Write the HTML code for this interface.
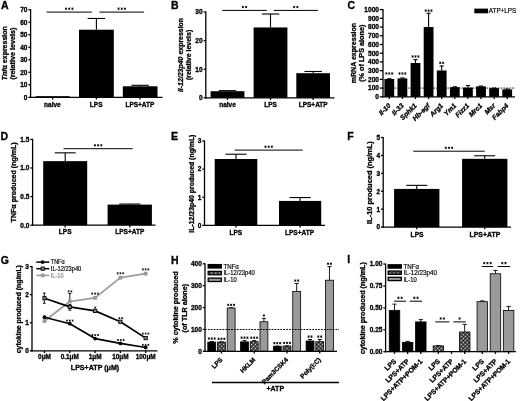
<!DOCTYPE html>
<html><head><meta charset="utf-8"><style>
html,body{margin:0;padding:0;background:#fff;}
body{width:520px;height:401px;overflow:hidden;}
svg{display:block;font-family:"Liberation Sans", sans-serif;filter:grayscale(1);}
</style></head><body>
<svg width="520" height="401" viewBox="0 0 520 401">
<defs><pattern id="hatch" patternUnits="userSpaceOnUse" width="2.8" height="2.8" patternTransform="rotate(45)">
<rect width="2.8" height="2.8" fill="#111"/><rect x="0.6" y="0.6" width="1.6" height="1.6" fill="#e8e8e8"/>
</pattern></defs>
<rect width="520" height="401" fill="#fff"/>
<text x="1" y="8.8" font-size="10.5" font-weight="bold" stroke="#000" stroke-width="0.3" text-anchor="start" fill="#000">A</text>
<line x1="30.6" y1="9.1" x2="30.6" y2="97.9" stroke="#000" stroke-width="1.3" />
<line x1="28.4" y1="97.3" x2="30.6" y2="97.3" stroke="#000" stroke-width="1.3" />
<text x="27.4" y="99.64" font-size="6.5" font-weight="bold" stroke="#000" stroke-width="0.3" text-anchor="end" fill="#000">0</text>
<line x1="28.4" y1="84.79" x2="30.6" y2="84.79" stroke="#000" stroke-width="1.3" />
<text x="27.4" y="87.13" font-size="6.5" font-weight="bold" stroke="#000" stroke-width="0.3" text-anchor="end" fill="#000">10</text>
<line x1="28.4" y1="72.27" x2="30.6" y2="72.27" stroke="#000" stroke-width="1.3" />
<text x="27.4" y="74.61" font-size="6.5" font-weight="bold" stroke="#000" stroke-width="0.3" text-anchor="end" fill="#000">20</text>
<line x1="28.4" y1="59.76" x2="30.6" y2="59.76" stroke="#000" stroke-width="1.3" />
<text x="27.4" y="62.1" font-size="6.5" font-weight="bold" stroke="#000" stroke-width="0.3" text-anchor="end" fill="#000">30</text>
<line x1="28.4" y1="47.24" x2="30.6" y2="47.24" stroke="#000" stroke-width="1.3" />
<text x="27.4" y="49.58" font-size="6.5" font-weight="bold" stroke="#000" stroke-width="0.3" text-anchor="end" fill="#000">40</text>
<line x1="28.4" y1="34.73" x2="30.6" y2="34.73" stroke="#000" stroke-width="1.3" />
<text x="27.4" y="37.07" font-size="6.5" font-weight="bold" stroke="#000" stroke-width="0.3" text-anchor="end" fill="#000">50</text>
<line x1="28.4" y1="22.21" x2="30.6" y2="22.21" stroke="#000" stroke-width="1.3" />
<text x="27.4" y="24.55" font-size="6.5" font-weight="bold" stroke="#000" stroke-width="0.3" text-anchor="end" fill="#000">60</text>
<line x1="28.4" y1="9.7" x2="30.6" y2="9.7" stroke="#000" stroke-width="1.3" />
<text x="27.4" y="12.04" font-size="6.5" font-weight="bold" stroke="#000" stroke-width="0.3" text-anchor="end" fill="#000">70</text>
<rect x="35.7" y="96.17" width="34" height="1.13" fill="#000"/>
<rect x="79" y="29.72" width="34.8" height="67.58" fill="#000"/>
<line x1="96.4" y1="29.72" x2="96.4" y2="18.46" stroke="#000" stroke-width="1.1" />
<line x1="87.65" y1="18.46" x2="105.15" y2="18.46" stroke="#000" stroke-width="1.1" />
<rect x="122.8" y="86.29" width="34.7" height="11.01" fill="#000"/>
<line x1="140.15" y1="86.29" x2="140.15" y2="85.29" stroke="#000" stroke-width="1.1" />
<line x1="131.4" y1="85.29" x2="148.9" y2="85.29" stroke="#000" stroke-width="1.1" />
<line x1="30" y1="97.3" x2="162.5" y2="97.3" stroke="#000" stroke-width="1.3" />
<line x1="52.7" y1="97.3" x2="52.7" y2="99.5" stroke="#000" stroke-width="1.3" />
<line x1="96.4" y1="97.3" x2="96.4" y2="99.5" stroke="#000" stroke-width="1.3" />
<line x1="140" y1="97.3" x2="140" y2="99.5" stroke="#000" stroke-width="1.3" />
<text x="52.4" y="106.8" font-size="6.5" font-weight="bold" stroke="#000" stroke-width="0.3" text-anchor="middle" fill="#000">naive</text>
<text x="96.2" y="106.8" font-size="6.5" font-weight="bold" stroke="#000" stroke-width="0.3" text-anchor="middle" fill="#000">LPS</text>
<text x="139.9" y="106.8" font-size="6.5" font-weight="bold" stroke="#000" stroke-width="0.3" text-anchor="middle" fill="#000">LPS+ATP</text>
<line x1="46.6" y1="12.1" x2="91.9" y2="12.1" stroke="#000" stroke-width="1.0" />
<path d="M66.05,7.55V9.85M65.05,8.12L67.05,9.27M65.05,9.27L67.05,8.12M69.25,7.55V9.85M68.25,8.12L70.25,9.27M68.25,9.27L70.25,8.12M72.45,7.55V9.85M71.45,8.12L73.45,9.27M71.45,9.27L73.45,8.12" stroke="#000" stroke-width="0.85" fill="none"/>
<line x1="99.4" y1="12.1" x2="144.1" y2="12.1" stroke="#000" stroke-width="1.0" />
<path d="M118.55,7.55V9.85M117.55,8.12L119.55,9.27M117.55,9.27L119.55,8.12M121.75,7.55V9.85M120.75,8.12L122.75,9.27M120.75,9.27L122.75,8.12M124.95,7.55V9.85M123.95,8.12L125.95,9.27M123.95,9.27L125.95,8.12" stroke="#000" stroke-width="0.85" fill="none"/>
<text transform="translate(7.2,53.25) rotate(-90)" font-size="7.0" font-weight="bold" textLength="54.1" lengthAdjust="spacingAndGlyphs" stroke="#000" stroke-width="0.3" text-anchor="middle" fill="#000"><tspan font-style="italic">Tnf</tspan>&#945; expression</text>
<text transform="translate(15.2,53.65) rotate(-90)" font-size="7.2" font-weight="bold" textLength="51.9" lengthAdjust="spacingAndGlyphs" stroke="#000" stroke-width="0.3" text-anchor="middle" fill="#000">(relative levels)</text>
<text x="171" y="9" font-size="10.5" font-weight="bold" stroke="#000" stroke-width="0.3" text-anchor="start" fill="#000">B</text>
<line x1="205.8" y1="11.4" x2="205.8" y2="98.4" stroke="#000" stroke-width="1.3" />
<line x1="203.6" y1="97.8" x2="205.8" y2="97.8" stroke="#000" stroke-width="1.3" />
<text x="202.6" y="100.14" font-size="6.5" font-weight="bold" stroke="#000" stroke-width="0.3" text-anchor="end" fill="#000">0</text>
<line x1="203.6" y1="69.2" x2="205.8" y2="69.2" stroke="#000" stroke-width="1.3" />
<text x="202.6" y="71.54" font-size="6.5" font-weight="bold" stroke="#000" stroke-width="0.3" text-anchor="end" fill="#000">10</text>
<line x1="203.6" y1="40.6" x2="205.8" y2="40.6" stroke="#000" stroke-width="1.3" />
<text x="202.6" y="42.94" font-size="6.5" font-weight="bold" stroke="#000" stroke-width="0.3" text-anchor="end" fill="#000">20</text>
<line x1="203.6" y1="12" x2="205.8" y2="12" stroke="#000" stroke-width="1.3" />
<text x="202.6" y="14.34" font-size="6.5" font-weight="bold" stroke="#000" stroke-width="0.3" text-anchor="end" fill="#000">30</text>
<rect x="210.6" y="91.22" width="33.8" height="6.58" fill="#000"/>
<line x1="227.5" y1="91.22" x2="227.5" y2="90.65" stroke="#000" stroke-width="1.1" />
<line x1="218.75" y1="90.65" x2="236.25" y2="90.65" stroke="#000" stroke-width="1.1" />
<rect x="253.6" y="27.44" width="33.8" height="70.36" fill="#000"/>
<line x1="270.5" y1="27.44" x2="270.5" y2="14" stroke="#000" stroke-width="1.1" />
<line x1="261.75" y1="14" x2="279.25" y2="14" stroke="#000" stroke-width="1.1" />
<rect x="296.3" y="73.2" width="33.7" height="24.6" fill="#000"/>
<line x1="313.15" y1="73.2" x2="313.15" y2="71.49" stroke="#000" stroke-width="1.1" />
<line x1="304.4" y1="71.49" x2="321.9" y2="71.49" stroke="#000" stroke-width="1.1" />
<line x1="205.2" y1="97.8" x2="334.5" y2="97.8" stroke="#000" stroke-width="1.3" />
<line x1="227.5" y1="97.8" x2="227.5" y2="100" stroke="#000" stroke-width="1.3" />
<line x1="270.5" y1="97.8" x2="270.5" y2="100" stroke="#000" stroke-width="1.3" />
<line x1="313.2" y1="97.8" x2="313.2" y2="100" stroke="#000" stroke-width="1.3" />
<text x="227.5" y="106.6" font-size="6.5" font-weight="bold" stroke="#000" stroke-width="0.3" text-anchor="middle" fill="#000">naive</text>
<text x="270.5" y="106.6" font-size="6.5" font-weight="bold" stroke="#000" stroke-width="0.3" text-anchor="middle" fill="#000">LPS</text>
<text x="313.2" y="106.6" font-size="6.5" font-weight="bold" stroke="#000" stroke-width="0.3" text-anchor="middle" fill="#000">LPS+ATP</text>
<line x1="222.2" y1="10.4" x2="266.8" y2="10.4" stroke="#000" stroke-width="1.0" />
<path d="M242.9,5.85V8.15M241.9,6.42L243.9,7.58M241.9,7.58L243.9,6.42M246.1,5.85V8.15M245.1,6.42L247.1,7.58M245.1,7.58L247.1,6.42" stroke="#000" stroke-width="0.85" fill="none"/>
<line x1="273.7" y1="10.4" x2="317.9" y2="10.4" stroke="#000" stroke-width="1.0" />
<path d="M294.2,5.85V8.15M293.2,6.42L295.2,7.58M293.2,7.58L295.2,6.42M297.4,5.85V8.15M296.4,6.42L298.4,7.58M296.4,7.58L298.4,6.42" stroke="#000" stroke-width="0.85" fill="none"/>
<text transform="translate(182.8,55) rotate(-90)" font-size="7.0" font-weight="bold" textLength="74.2" lengthAdjust="spacingAndGlyphs" stroke="#000" stroke-width="0.3" text-anchor="middle" fill="#000"><tspan font-style="italic">Il-12/23p40</tspan> expression</text>
<text transform="translate(191.3,54.95) rotate(-90)" font-size="7.0" font-weight="bold" textLength="50.3" lengthAdjust="spacingAndGlyphs" stroke="#000" stroke-width="0.3" text-anchor="middle" fill="#000">(relative levels)</text>
<text x="347.6" y="9.2" font-size="10.5" font-weight="bold" stroke="#000" stroke-width="0.3" text-anchor="start" fill="#000">C</text>
<line x1="383" y1="9" x2="383" y2="97.4" stroke="#000" stroke-width="1.3" />
<line x1="379.8" y1="96.8" x2="383" y2="96.8" stroke="#000" stroke-width="1.3" />
<text x="379" y="99.18" font-size="6.6" font-weight="bold" stroke="#000" stroke-width="0.3" text-anchor="end" fill="#000">0</text>
<line x1="379.8" y1="88.08" x2="383" y2="88.08" stroke="#000" stroke-width="1.3" />
<text x="379" y="90.46" font-size="6.6" font-weight="bold" stroke="#000" stroke-width="0.3" text-anchor="end" fill="#000">100</text>
<line x1="379.8" y1="79.36" x2="383" y2="79.36" stroke="#000" stroke-width="1.3" />
<text x="379" y="81.74" font-size="6.6" font-weight="bold" stroke="#000" stroke-width="0.3" text-anchor="end" fill="#000">200</text>
<line x1="379.8" y1="70.64" x2="383" y2="70.64" stroke="#000" stroke-width="1.3" />
<text x="379" y="73.02" font-size="6.6" font-weight="bold" stroke="#000" stroke-width="0.3" text-anchor="end" fill="#000">300</text>
<line x1="379.8" y1="61.92" x2="383" y2="61.92" stroke="#000" stroke-width="1.3" />
<text x="379" y="64.3" font-size="6.6" font-weight="bold" stroke="#000" stroke-width="0.3" text-anchor="end" fill="#000">400</text>
<line x1="379.8" y1="53.2" x2="383" y2="53.2" stroke="#000" stroke-width="1.3" />
<text x="379" y="55.58" font-size="6.6" font-weight="bold" stroke="#000" stroke-width="0.3" text-anchor="end" fill="#000">500</text>
<line x1="379.8" y1="44.48" x2="383" y2="44.48" stroke="#000" stroke-width="1.3" />
<text x="379" y="46.86" font-size="6.6" font-weight="bold" stroke="#000" stroke-width="0.3" text-anchor="end" fill="#000">600</text>
<line x1="379.8" y1="35.76" x2="383" y2="35.76" stroke="#000" stroke-width="1.3" />
<text x="379" y="38.14" font-size="6.6" font-weight="bold" stroke="#000" stroke-width="0.3" text-anchor="end" fill="#000">700</text>
<line x1="379.8" y1="27.04" x2="383" y2="27.04" stroke="#000" stroke-width="1.3" />
<text x="379" y="29.42" font-size="6.6" font-weight="bold" stroke="#000" stroke-width="0.3" text-anchor="end" fill="#000">800</text>
<line x1="379.8" y1="18.32" x2="383" y2="18.32" stroke="#000" stroke-width="1.3" />
<text x="379" y="20.7" font-size="6.6" font-weight="bold" stroke="#000" stroke-width="0.3" text-anchor="end" fill="#000">900</text>
<line x1="379.8" y1="9.6" x2="383" y2="9.6" stroke="#000" stroke-width="1.3" />
<text x="379" y="11.98" font-size="6.6" font-weight="bold" stroke="#000" stroke-width="0.3" text-anchor="end" fill="#000">1000</text>
<line x1="383" y1="88.08" x2="515" y2="88.08" stroke="#000" stroke-width="0.9" stroke-dasharray="1.6 1.2"/>
<rect x="384.4" y="79.01" width="9.8" height="17.79" fill="#000"/>
<line x1="389.3" y1="79.01" x2="389.3" y2="78.75" stroke="#000" stroke-width="1.1" />
<line x1="387.2" y1="78.75" x2="391.4" y2="78.75" stroke="#000" stroke-width="1.1" />
<path d="M386.4,72.35V74.65M385.4,72.92L387.4,74.08M385.4,74.08L387.4,72.92M389.3,72.35V74.65M388.3,72.92L390.3,74.08M388.3,74.08L390.3,72.92M392.2,72.35V74.65M391.2,72.92L393.2,74.08M391.2,74.08L393.2,72.92" stroke="#000" stroke-width="0.85" fill="none"/>
<rect x="397.5" y="78.4" width="9.8" height="18.4" fill="#000"/>
<line x1="402.4" y1="78.4" x2="402.4" y2="77.96" stroke="#000" stroke-width="1.1" />
<line x1="400.3" y1="77.96" x2="404.5" y2="77.96" stroke="#000" stroke-width="1.1" />
<path d="M399.5,72.35V74.65M398.5,72.92L400.5,74.08M398.5,74.08L400.5,72.92M402.4,72.35V74.65M401.4,72.92L403.4,74.08M401.4,74.08L403.4,72.92M405.3,72.35V74.65M404.3,72.92L406.3,74.08M404.3,74.08L406.3,72.92" stroke="#000" stroke-width="0.85" fill="none"/>
<rect x="410.6" y="62.97" width="9.8" height="33.83" fill="#000"/>
<line x1="415.5" y1="62.97" x2="415.5" y2="59.65" stroke="#000" stroke-width="1.1" />
<line x1="413.4" y1="59.65" x2="417.6" y2="59.65" stroke="#000" stroke-width="1.1" />
<path d="M412.6,55.35V57.65M411.6,55.92L413.6,57.08M411.6,57.08L413.6,55.92M415.5,55.35V57.65M414.5,55.92L416.5,57.08M414.5,57.08L416.5,55.92M418.4,55.35V57.65M417.4,55.92L419.4,57.08M417.4,57.08L419.4,55.92" stroke="#000" stroke-width="0.85" fill="none"/>
<rect x="423.7" y="27.04" width="9.8" height="69.76" fill="#000"/>
<line x1="428.6" y1="27.04" x2="428.6" y2="13.26" stroke="#000" stroke-width="1.1" />
<line x1="426.5" y1="13.26" x2="430.7" y2="13.26" stroke="#000" stroke-width="1.1" />
<path d="M425.7,9.45V11.75M424.7,10.03L426.7,11.17M424.7,11.17L426.7,10.03M428.6,9.45V11.75M427.6,10.03L429.6,11.17M427.6,11.17L429.6,10.03M431.5,9.45V11.75M430.5,10.03L432.5,11.17M430.5,11.17L432.5,10.03" stroke="#000" stroke-width="0.85" fill="none"/>
<rect x="436.8" y="70.47" width="9.8" height="26.33" fill="#000"/>
<line x1="441.7" y1="70.47" x2="441.7" y2="65.93" stroke="#000" stroke-width="1.1" />
<line x1="439.6" y1="65.93" x2="443.8" y2="65.93" stroke="#000" stroke-width="1.1" />
<path d="M440.25,61.65V63.95M439.25,62.22L441.25,63.38M439.25,63.38L441.25,62.22M443.15,61.65V63.95M442.15,62.22L444.15,63.38M442.15,63.38L444.15,62.22" stroke="#000" stroke-width="0.85" fill="none"/>
<rect x="449.9" y="87.12" width="9.8" height="9.68" fill="#000"/>
<line x1="454.8" y1="87.12" x2="454.8" y2="86.77" stroke="#000" stroke-width="1.1" />
<line x1="452.7" y1="86.77" x2="456.9" y2="86.77" stroke="#000" stroke-width="1.1" />
<rect x="463" y="87.56" width="9.8" height="9.24" fill="#000"/>
<line x1="467.9" y1="87.56" x2="467.9" y2="85.55" stroke="#000" stroke-width="1.1" />
<line x1="465.8" y1="85.55" x2="470" y2="85.55" stroke="#000" stroke-width="1.1" />
<rect x="476.1" y="86.34" width="9.8" height="10.46" fill="#000"/>
<line x1="481" y1="86.34" x2="481" y2="86.07" stroke="#000" stroke-width="1.1" />
<line x1="478.9" y1="86.07" x2="483.1" y2="86.07" stroke="#000" stroke-width="1.1" />
<rect x="489.2" y="88.17" width="9.8" height="8.63" fill="#000"/>
<line x1="494.1" y1="88.17" x2="494.1" y2="87.99" stroke="#000" stroke-width="1.1" />
<line x1="492" y1="87.99" x2="496.2" y2="87.99" stroke="#000" stroke-width="1.1" />
<rect x="502.3" y="89.39" width="9.8" height="7.41" fill="#000"/>
<line x1="507.2" y1="89.39" x2="507.2" y2="89.13" stroke="#000" stroke-width="1.1" />
<line x1="505.1" y1="89.13" x2="509.3" y2="89.13" stroke="#000" stroke-width="1.1" />
<line x1="382.4" y1="96.8" x2="515" y2="96.8" stroke="#000" stroke-width="1.3" />
<line x1="389.3" y1="96.8" x2="389.3" y2="99" stroke="#000" stroke-width="1.3" />
<line x1="402.4" y1="96.8" x2="402.4" y2="99" stroke="#000" stroke-width="1.3" />
<line x1="415.5" y1="96.8" x2="415.5" y2="99" stroke="#000" stroke-width="1.3" />
<line x1="428.6" y1="96.8" x2="428.6" y2="99" stroke="#000" stroke-width="1.3" />
<line x1="441.7" y1="96.8" x2="441.7" y2="99" stroke="#000" stroke-width="1.3" />
<line x1="454.8" y1="96.8" x2="454.8" y2="99" stroke="#000" stroke-width="1.3" />
<line x1="467.9" y1="96.8" x2="467.9" y2="99" stroke="#000" stroke-width="1.3" />
<line x1="481" y1="96.8" x2="481" y2="99" stroke="#000" stroke-width="1.3" />
<line x1="494.1" y1="96.8" x2="494.1" y2="99" stroke="#000" stroke-width="1.3" />
<line x1="507.2" y1="96.8" x2="507.2" y2="99" stroke="#000" stroke-width="1.3" />
<text transform="translate(391.1,106.1) rotate(-45)" font-size="6.8" font-weight="bold" font-style="italic" stroke="#000" stroke-width="0.3" text-anchor="end" fill="#000">Il-10</text>
<text transform="translate(404.2,106.1) rotate(-45)" font-size="6.8" font-weight="bold" font-style="italic" stroke="#000" stroke-width="0.3" text-anchor="end" fill="#000">Il-33</text>
<text transform="translate(417.3,106.1) rotate(-45)" font-size="6.8" font-weight="bold" font-style="italic" stroke="#000" stroke-width="0.3" text-anchor="end" fill="#000">Sphk1</text>
<text transform="translate(430.4,106.1) rotate(-45)" font-size="6.8" font-weight="bold" font-style="italic" stroke="#000" stroke-width="0.3" text-anchor="end" fill="#000">Hb-egf</text>
<text transform="translate(443.5,106.1) rotate(-45)" font-size="6.8" font-weight="bold" font-style="italic" stroke="#000" stroke-width="0.3" text-anchor="end" fill="#000">Arg1</text>
<text transform="translate(456.6,106.1) rotate(-45)" font-size="6.8" font-weight="bold" font-style="italic" stroke="#000" stroke-width="0.3" text-anchor="end" fill="#000">Ym1</text>
<text transform="translate(469.7,106.1) rotate(-45)" font-size="6.8" font-weight="bold" font-style="italic" stroke="#000" stroke-width="0.3" text-anchor="end" fill="#000">Fizz1</text>
<text transform="translate(482.8,106.1) rotate(-45)" font-size="6.8" font-weight="bold" font-style="italic" stroke="#000" stroke-width="0.3" text-anchor="end" fill="#000">Mrc1</text>
<text transform="translate(495.9,106.1) rotate(-45)" font-size="6.8" font-weight="bold" font-style="italic" stroke="#000" stroke-width="0.3" text-anchor="end" fill="#000">Msr</text>
<text transform="translate(509,106.1) rotate(-45)" font-size="6.8" font-weight="bold" font-style="italic" stroke="#000" stroke-width="0.3" text-anchor="end" fill="#000">Fabp4</text>
<rect x="474.3" y="8.6" width="13.8" height="4.7" fill="#000"/>
<text x="488.8" y="13.2" font-size="6.3" font-weight="normal" stroke="#000" stroke-width="0.18" text-anchor="start" fill="#000">ATP+LPS</text>
<text transform="translate(355.6,53.1) rotate(-90)" font-size="7.0" font-weight="bold" textLength="60.4" lengthAdjust="spacingAndGlyphs" stroke="#000" stroke-width="0.3" text-anchor="middle" fill="#000">mRNA expression</text>
<text transform="translate(363.8,53.2) rotate(-90)" font-size="7.25" font-weight="bold" textLength="57.2" lengthAdjust="spacingAndGlyphs" stroke="#000" stroke-width="0.3" text-anchor="middle" fill="#000">(% of LPS alone)</text>
<text x="0.6" y="139.7" font-size="10.5" font-weight="bold" stroke="#000" stroke-width="0.3" text-anchor="start" fill="#000">D</text>
<line x1="32.6" y1="138.8" x2="32.6" y2="225.8" stroke="#000" stroke-width="1.3" />
<line x1="30.4" y1="225.2" x2="32.6" y2="225.2" stroke="#000" stroke-width="1.3" />
<text x="29.4" y="227.54" font-size="6.5" font-weight="bold" stroke="#000" stroke-width="0.3" text-anchor="end" fill="#000">0.0</text>
<line x1="30.4" y1="196.6" x2="32.6" y2="196.6" stroke="#000" stroke-width="1.3" />
<text x="29.4" y="198.94" font-size="6.5" font-weight="bold" stroke="#000" stroke-width="0.3" text-anchor="end" fill="#000">0.5</text>
<line x1="30.4" y1="168" x2="32.6" y2="168" stroke="#000" stroke-width="1.3" />
<text x="29.4" y="170.34" font-size="6.5" font-weight="bold" stroke="#000" stroke-width="0.3" text-anchor="end" fill="#000">1.0</text>
<line x1="30.4" y1="139.4" x2="32.6" y2="139.4" stroke="#000" stroke-width="1.3" />
<text x="29.4" y="141.74" font-size="6.5" font-weight="bold" stroke="#000" stroke-width="0.3" text-anchor="end" fill="#000">1.5</text>
<rect x="43.2" y="161.14" width="44" height="64.06" fill="#000"/>
<line x1="65.2" y1="161.14" x2="65.2" y2="152.84" stroke="#000" stroke-width="1.1" />
<line x1="54.7" y1="152.84" x2="75.7" y2="152.84" stroke="#000" stroke-width="1.1" />
<rect x="107.6" y="204.61" width="44.3" height="20.59" fill="#000"/>
<line x1="129.75" y1="204.61" x2="129.75" y2="204.04" stroke="#000" stroke-width="1.1" />
<line x1="119.25" y1="204.04" x2="140.25" y2="204.04" stroke="#000" stroke-width="1.1" />
<line x1="32" y1="225.2" x2="155.5" y2="225.2" stroke="#000" stroke-width="1.3" />
<line x1="65.2" y1="225.2" x2="65.2" y2="227.4" stroke="#000" stroke-width="1.3" />
<line x1="129.8" y1="225.2" x2="129.8" y2="227.4" stroke="#000" stroke-width="1.3" />
<text x="65.2" y="234.3" font-size="6.5" font-weight="bold" stroke="#000" stroke-width="0.3" text-anchor="middle" fill="#000">LPS</text>
<text x="129.8" y="234.3" font-size="6.5" font-weight="bold" stroke="#000" stroke-width="0.3" text-anchor="middle" fill="#000">LPS+ATP</text>
<line x1="63.5" y1="148.7" x2="132.7" y2="148.7" stroke="#000" stroke-width="1.0" />
<path d="M94.9,144.15V146.45M93.9,144.72L95.9,145.87M93.9,145.87L95.9,144.72M98.1,144.15V146.45M97.1,144.72L99.1,145.87M97.1,145.87L99.1,144.72M101.3,144.15V146.45M100.3,144.72L102.3,145.87M100.3,145.87L102.3,144.72" stroke="#000" stroke-width="0.85" fill="none"/>
<text transform="translate(16.2,182.35) rotate(-90)" font-size="7.1" font-weight="bold" textLength="80.1" lengthAdjust="spacingAndGlyphs" stroke="#000" stroke-width="0.3" text-anchor="middle" fill="#000">TNF&#945; produced (ng/mL)</text>
<text x="171" y="139.7" font-size="10.5" font-weight="bold" stroke="#000" stroke-width="0.3" text-anchor="start" fill="#000">E</text>
<line x1="204.5" y1="140.4" x2="204.5" y2="226" stroke="#000" stroke-width="1.3" />
<line x1="202.3" y1="225.4" x2="204.5" y2="225.4" stroke="#000" stroke-width="1.3" />
<text x="201.3" y="227.74" font-size="6.5" font-weight="bold" stroke="#000" stroke-width="0.3" text-anchor="end" fill="#000">0</text>
<line x1="202.3" y1="197.27" x2="204.5" y2="197.27" stroke="#000" stroke-width="1.3" />
<text x="201.3" y="199.61" font-size="6.5" font-weight="bold" stroke="#000" stroke-width="0.3" text-anchor="end" fill="#000">1</text>
<line x1="202.3" y1="169.13" x2="204.5" y2="169.13" stroke="#000" stroke-width="1.3" />
<text x="201.3" y="171.47" font-size="6.5" font-weight="bold" stroke="#000" stroke-width="0.3" text-anchor="end" fill="#000">2</text>
<line x1="202.3" y1="141" x2="204.5" y2="141" stroke="#000" stroke-width="1.3" />
<text x="201.3" y="143.34" font-size="6.5" font-weight="bold" stroke="#000" stroke-width="0.3" text-anchor="end" fill="#000">3</text>
<rect x="214.7" y="159.01" width="42.6" height="66.39" fill="#000"/>
<line x1="236" y1="159.01" x2="236" y2="154.22" stroke="#000" stroke-width="1.1" />
<line x1="225.5" y1="154.22" x2="246.5" y2="154.22" stroke="#000" stroke-width="1.1" />
<rect x="279" y="200.92" width="42.2" height="24.48" fill="#000"/>
<line x1="300.1" y1="200.92" x2="300.1" y2="197.55" stroke="#000" stroke-width="1.1" />
<line x1="289.6" y1="197.55" x2="310.6" y2="197.55" stroke="#000" stroke-width="1.1" />
<line x1="203.9" y1="225.4" x2="325" y2="225.4" stroke="#000" stroke-width="1.3" />
<line x1="236" y1="225.4" x2="236" y2="227.6" stroke="#000" stroke-width="1.3" />
<line x1="300.1" y1="225.4" x2="300.1" y2="227.6" stroke="#000" stroke-width="1.3" />
<text x="235.9" y="234.7" font-size="6.5" font-weight="bold" stroke="#000" stroke-width="0.3" text-anchor="middle" fill="#000">LPS</text>
<text x="299.5" y="234.7" font-size="6.5" font-weight="bold" stroke="#000" stroke-width="0.3" text-anchor="middle" fill="#000">LPS+ATP</text>
<line x1="234.6" y1="150.1" x2="302.7" y2="150.1" stroke="#000" stroke-width="1.0" />
<path d="M265.45,145.55V147.85M264.45,146.12L266.45,147.27M264.45,147.27L266.45,146.12M268.65,145.55V147.85M267.65,146.12L269.65,147.27M267.65,147.27L269.65,146.12M271.85,145.55V147.85M270.85,146.12L272.85,147.27M270.85,147.27L272.85,146.12" stroke="#000" stroke-width="0.85" fill="none"/>
<text transform="translate(193.6,183.65) rotate(-90)" font-size="6.9" font-weight="bold" textLength="98.1" lengthAdjust="spacingAndGlyphs" stroke="#000" stroke-width="0.3" text-anchor="middle" fill="#000">IL-12/23p40 produced (ng/mL)</text>
<text x="347.3" y="139.7" font-size="10.5" font-weight="bold" stroke="#000" stroke-width="0.3" text-anchor="start" fill="#000">F</text>
<line x1="383.2" y1="136.9" x2="383.2" y2="227.7" stroke="#000" stroke-width="1.3" />
<line x1="381" y1="227.1" x2="383.2" y2="227.1" stroke="#000" stroke-width="1.3" />
<text x="380" y="229.44" font-size="6.5" font-weight="bold" stroke="#000" stroke-width="0.3" text-anchor="end" fill="#000">0</text>
<line x1="381" y1="209.18" x2="383.2" y2="209.18" stroke="#000" stroke-width="1.3" />
<text x="380" y="211.52" font-size="6.5" font-weight="bold" stroke="#000" stroke-width="0.3" text-anchor="end" fill="#000">1</text>
<line x1="381" y1="191.26" x2="383.2" y2="191.26" stroke="#000" stroke-width="1.3" />
<text x="380" y="193.6" font-size="6.5" font-weight="bold" stroke="#000" stroke-width="0.3" text-anchor="end" fill="#000">2</text>
<line x1="381" y1="173.34" x2="383.2" y2="173.34" stroke="#000" stroke-width="1.3" />
<text x="380" y="175.68" font-size="6.5" font-weight="bold" stroke="#000" stroke-width="0.3" text-anchor="end" fill="#000">3</text>
<line x1="381" y1="155.42" x2="383.2" y2="155.42" stroke="#000" stroke-width="1.3" />
<text x="380" y="157.76" font-size="6.5" font-weight="bold" stroke="#000" stroke-width="0.3" text-anchor="end" fill="#000">4</text>
<line x1="381" y1="137.5" x2="383.2" y2="137.5" stroke="#000" stroke-width="1.3" />
<text x="380" y="139.84" font-size="6.5" font-weight="bold" stroke="#000" stroke-width="0.3" text-anchor="end" fill="#000">5</text>
<rect x="394.1" y="188.93" width="45.3" height="38.17" fill="#000"/>
<line x1="416.75" y1="188.93" x2="416.75" y2="185.35" stroke="#000" stroke-width="1.1" />
<line x1="406.25" y1="185.35" x2="427.25" y2="185.35" stroke="#000" stroke-width="1.1" />
<rect x="462.1" y="158.82" width="45.3" height="68.28" fill="#000"/>
<line x1="484.75" y1="158.82" x2="484.75" y2="155.78" stroke="#000" stroke-width="1.1" />
<line x1="474.25" y1="155.78" x2="495.25" y2="155.78" stroke="#000" stroke-width="1.1" />
<line x1="382.6" y1="227.1" x2="511" y2="227.1" stroke="#000" stroke-width="1.3" />
<line x1="416.7" y1="227.1" x2="416.7" y2="229.3" stroke="#000" stroke-width="1.3" />
<line x1="484.7" y1="227.1" x2="484.7" y2="229.3" stroke="#000" stroke-width="1.3" />
<text x="417.1" y="236.5" font-size="6.7" font-weight="bold" stroke="#000" stroke-width="0.3" text-anchor="middle" fill="#000">LPS</text>
<text x="484.9" y="236.5" font-size="6.9" font-weight="bold" stroke="#000" stroke-width="0.3" text-anchor="middle" fill="#000">LPS+ATP</text>
<line x1="413.2" y1="151.2" x2="484.7" y2="151.2" stroke="#000" stroke-width="1.0" />
<path d="M445.75,146.65V148.95M444.75,147.22L446.75,148.37M444.75,148.37L446.75,147.22M448.95,146.65V148.95M447.95,147.22L449.95,148.37M447.95,148.37L449.95,147.22M452.15,146.65V148.95M451.15,147.22L453.15,148.37M451.15,148.37L453.15,147.22" stroke="#000" stroke-width="0.85" fill="none"/>
<text transform="translate(372,182.55) rotate(-90)" font-size="7.4" font-weight="bold" textLength="82.7" lengthAdjust="spacingAndGlyphs" stroke="#000" stroke-width="0.3" text-anchor="middle" fill="#000">IL-10 produced (ng/mL)</text>
<text x="0.8" y="264.3" font-size="10.5" font-weight="bold" stroke="#000" stroke-width="0.3" text-anchor="start" fill="#000">G</text>
<line x1="32" y1="266" x2="32" y2="351.4" stroke="#000" stroke-width="1.3" />
<line x1="29.8" y1="350.8" x2="32" y2="350.8" stroke="#000" stroke-width="1.3" />
<text x="28.8" y="353.14" font-size="6.5" font-weight="bold" stroke="#000" stroke-width="0.3" text-anchor="end" fill="#000">0</text>
<line x1="29.8" y1="322.73" x2="32" y2="322.73" stroke="#000" stroke-width="1.3" />
<text x="28.8" y="325.07" font-size="6.5" font-weight="bold" stroke="#000" stroke-width="0.3" text-anchor="end" fill="#000">1</text>
<line x1="29.8" y1="294.67" x2="32" y2="294.67" stroke="#000" stroke-width="1.3" />
<text x="28.8" y="297.01" font-size="6.5" font-weight="bold" stroke="#000" stroke-width="0.3" text-anchor="end" fill="#000">2</text>
<line x1="29.8" y1="266.6" x2="32" y2="266.6" stroke="#000" stroke-width="1.3" />
<text x="28.8" y="268.94" font-size="6.5" font-weight="bold" stroke="#000" stroke-width="0.3" text-anchor="end" fill="#000">3</text>
<line x1="31.4" y1="350.8" x2="157.5" y2="350.8" stroke="#000" stroke-width="1.3" />
<line x1="44.5" y1="350.8" x2="44.5" y2="353" stroke="#000" stroke-width="1.3" />
<line x1="69.8" y1="350.8" x2="69.8" y2="353" stroke="#000" stroke-width="1.3" />
<line x1="95.1" y1="350.8" x2="95.1" y2="353" stroke="#000" stroke-width="1.3" />
<line x1="120.4" y1="350.8" x2="120.4" y2="353" stroke="#000" stroke-width="1.3" />
<line x1="145.7" y1="350.8" x2="145.7" y2="353" stroke="#000" stroke-width="1.3" />
<text x="44.5" y="359.3" font-size="6.4" font-weight="bold" stroke="#000" stroke-width="0.3" text-anchor="middle" fill="#000">0&#956;M</text>
<text x="69.8" y="359.3" font-size="6.4" font-weight="bold" stroke="#000" stroke-width="0.3" text-anchor="middle" fill="#000">0.1&#956;M</text>
<text x="95.1" y="359.3" font-size="6.4" font-weight="bold" stroke="#000" stroke-width="0.3" text-anchor="middle" fill="#000">1&#956;M</text>
<text x="120.4" y="359.3" font-size="6.4" font-weight="bold" stroke="#000" stroke-width="0.3" text-anchor="middle" fill="#000">10&#956;M</text>
<text x="145.7" y="359.3" font-size="6.4" font-weight="bold" stroke="#000" stroke-width="0.3" text-anchor="middle" fill="#000">100&#956;M</text>
<text x="95" y="369.8" font-size="6.6" font-weight="bold" textLength="48.4" lengthAdjust="spacingAndGlyphs" stroke="#000" stroke-width="0.3" text-anchor="middle" fill="#000">LPS+ATP (&#956;M)</text>
<text transform="translate(21,309.15) rotate(-90)" font-size="6.9" font-weight="bold" textLength="88.1" lengthAdjust="spacingAndGlyphs" stroke="#000" stroke-width="0.3" text-anchor="middle" fill="#000">cytokine produced (ng/mL)</text>
<line x1="44.3" y1="298.2" x2="44.3" y2="293.1" stroke="#000" stroke-width="0.9" />
<line x1="42.9" y1="293.1" x2="45.7" y2="293.1" stroke="#000" stroke-width="0.9" />
<line x1="44.3" y1="298.2" x2="44.3" y2="303.3" stroke="#000" stroke-width="0.9" />
<line x1="42.9" y1="303.3" x2="45.7" y2="303.3" stroke="#000" stroke-width="0.9" />
<line x1="69.8" y1="301.5" x2="69.8" y2="293.5" stroke="#000" stroke-width="0.9" />
<line x1="68.4" y1="293.5" x2="71.2" y2="293.5" stroke="#000" stroke-width="0.9" />
<line x1="69.8" y1="306.9" x2="69.8" y2="304.6" stroke="#000" stroke-width="0.9" />
<line x1="68.4" y1="304.6" x2="71.2" y2="304.6" stroke="#000" stroke-width="0.9" />
<line x1="69.8" y1="306.9" x2="69.8" y2="310.2" stroke="#000" stroke-width="0.9" />
<line x1="68.4" y1="310.2" x2="71.2" y2="310.2" stroke="#000" stroke-width="0.9" />
<polyline points="44.5,321 69.8,301.5 95.1,297.9 120.4,277.7 145.7,273.6" fill="none" stroke="#9a9a9a" stroke-width="1.7" stroke-linejoin="round"/>
<polyline points="44.5,298.2 69.8,306.9 95.1,310.9 120.4,321.8 145.7,338.1" fill="none" stroke="#000" stroke-width="1.7" stroke-linejoin="round"/>
<polyline points="44.5,317.2 69.8,323.7 95.1,338.6 120.4,343.4 145.7,347.5" fill="none" stroke="#000" stroke-width="1.7" stroke-linejoin="round"/>
<rect x="42.6" y="319.1" width="3.8" height="3.8" fill="#9a9a9a"/>
<rect x="67.9" y="299.6" width="3.8" height="3.8" fill="#9a9a9a"/>
<rect x="93.2" y="296" width="3.8" height="3.8" fill="#9a9a9a"/>
<rect x="118.5" y="275.8" width="3.8" height="3.8" fill="#9a9a9a"/>
<rect x="143.8" y="271.7" width="3.8" height="3.8" fill="#9a9a9a"/>
<rect x="42.9" y="296.6" width="3.2" height="3.2" fill="#888" stroke="#111" stroke-width="1.0"/>
<rect x="68.2" y="305.3" width="3.2" height="3.2" fill="#888" stroke="#111" stroke-width="1.0"/>
<rect x="93.5" y="309.3" width="3.2" height="3.2" fill="#888" stroke="#111" stroke-width="1.0"/>
<rect x="118.8" y="320.2" width="3.2" height="3.2" fill="#888" stroke="#111" stroke-width="1.0"/>
<rect x="144.1" y="336.5" width="3.2" height="3.2" fill="#888" stroke="#111" stroke-width="1.0"/>
<circle cx="44.5" cy="317.2" r="1.9" fill="#000"/>
<circle cx="69.8" cy="323.7" r="1.9" fill="#000"/>
<circle cx="95.1" cy="338.6" r="1.9" fill="#000"/>
<circle cx="120.4" cy="343.4" r="1.9" fill="#000"/>
<circle cx="145.7" cy="347.5" r="1.9" fill="#000"/>
<path d="M68.6,290.4V292.4M67.73,290.9L69.47,291.9M67.73,291.9L69.47,290.9M71.4,290.4V292.4M70.53,290.9L72.27,291.9M70.53,291.9L72.27,290.9" stroke="#000" stroke-width="0.75" fill="none"/>
<path d="M92.2,292.6V294.6M91.33,293.1L93.07,294.1M91.33,294.1L93.07,293.1M95,292.6V294.6M94.13,293.1L95.87,294.1M94.13,294.1L95.87,293.1M97.8,292.6V294.6M96.93,293.1L98.67,294.1M96.93,294.1L98.67,293.1" stroke="#000" stroke-width="0.75" fill="none"/>
<path d="M117.6,272.3V274.3M116.73,272.8L118.47,273.8M116.73,273.8L118.47,272.8M120.4,272.3V274.3M119.53,272.8L121.27,273.8M119.53,273.8L121.27,272.8M123.2,272.3V274.3M122.33,272.8L124.07,273.8M122.33,273.8L124.07,272.8" stroke="#000" stroke-width="0.75" fill="none"/>
<path d="M142.8,268.4V270.4M141.93,268.9L143.67,269.9M141.93,269.9L143.67,268.9M145.6,268.4V270.4M144.73,268.9L146.47,269.9M144.73,269.9L146.47,268.9M148.4,268.4V270.4M147.53,268.9L149.27,269.9M147.53,269.9L149.27,268.9" stroke="#000" stroke-width="0.75" fill="none"/>
<path d="M95.3,306.6V308.6M94.43,307.1L96.17,308.1M94.43,308.1L96.17,307.1" stroke="#000" stroke-width="0.75" fill="none"/>
<path d="M119.4,317.2V319.2M118.53,317.7L120.27,318.7M118.53,318.7L120.27,317.7M122.2,317.2V319.2M121.33,317.7L123.07,318.7M121.33,318.7L123.07,317.7" stroke="#000" stroke-width="0.75" fill="none"/>
<path d="M142.8,332.6V334.6M141.93,333.1L143.67,334.1M141.93,334.1L143.67,333.1M145.6,332.6V334.6M144.73,333.1L146.47,334.1M144.73,334.1L146.47,333.1M148.4,332.6V334.6M147.53,333.1L149.27,334.1M147.53,334.1L149.27,333.1" stroke="#000" stroke-width="0.75" fill="none"/>
<path d="M67,319.6V321.6M66.13,320.1L67.87,321.1M66.13,321.1L67.87,320.1M69.8,319.6V321.6M68.93,320.1L70.67,321.1M68.93,321.1L70.67,320.1M72.6,319.6V321.6M71.73,320.1L73.47,321.1M71.73,321.1L73.47,320.1" stroke="#000" stroke-width="0.75" fill="none"/>
<path d="M92.5,334V336M91.63,334.5L93.37,335.5M91.63,335.5L93.37,334.5M95.3,334V336M94.43,334.5L96.17,335.5M94.43,335.5L96.17,334.5M98.1,334V336M97.23,334.5L98.97,335.5M97.23,335.5L98.97,334.5" stroke="#000" stroke-width="0.75" fill="none"/>
<path d="M118,339V341M117.13,339.5L118.87,340.5M117.13,340.5L118.87,339.5M120.8,339V341M119.93,339.5L121.67,340.5M119.93,340.5L121.67,339.5M123.6,339V341M122.73,339.5L124.47,340.5M122.73,340.5L124.47,339.5" stroke="#000" stroke-width="0.75" fill="none"/>
<path d="M142.8,343.9V345.9M141.93,344.4L143.67,345.4M141.93,345.4L143.67,344.4M145.6,343.9V345.9M144.73,344.4L146.47,345.4M144.73,345.4L146.47,344.4M148.4,343.9V345.9M147.53,344.4L149.27,345.4M147.53,345.4L149.27,344.4" stroke="#000" stroke-width="0.75" fill="none"/>
<line x1="36.3" y1="262.1" x2="49.3" y2="262.1" stroke="#000" stroke-width="1.5" />
<circle cx="42.6" cy="262.1" r="1.9" fill="#000"/>
<line x1="36.3" y1="268.7" x2="49.3" y2="268.7" stroke="#000" stroke-width="1.5" />
<rect x="41.1" y="267.1" width="3.2" height="3.2" fill="#888" stroke="#111" stroke-width="1.0"/>
<line x1="36.3" y1="275.4" x2="49.3" y2="275.4" stroke="#9a9a9a" stroke-width="1.5" />
<rect x="40.8" y="273.5" width="3.8" height="3.8" fill="#9a9a9a"/>
<text x="50.8" y="264.3" font-size="6.5" font-weight="normal" textLength="13.8" lengthAdjust="spacingAndGlyphs" stroke="#000" stroke-width="0.18" text-anchor="start" fill="#000">TNF&#945;</text>
<text x="50.8" y="270.9" font-size="6.5" font-weight="normal" textLength="30.5" lengthAdjust="spacingAndGlyphs" stroke="#000" stroke-width="0.18" text-anchor="start" fill="#000">IL-12/23p40</text>
<text x="50.8" y="277.6" font-size="6.5" font-weight="normal" textLength="12.7" lengthAdjust="spacingAndGlyphs" stroke="#888" stroke-width="0.18" text-anchor="start" fill="#888">IL-10</text>
<text x="171" y="263.6" font-size="10.5" font-weight="bold" stroke="#000" stroke-width="0.3" text-anchor="start" fill="#000">H</text>
<line x1="205" y1="263.2" x2="205" y2="351.9" stroke="#000" stroke-width="1.3" />
<line x1="202.8" y1="351.3" x2="205" y2="351.3" stroke="#000" stroke-width="1.3" />
<text x="201.8" y="353.64" font-size="6.5" font-weight="bold" stroke="#000" stroke-width="0.3" text-anchor="end" fill="#000">0</text>
<line x1="202.8" y1="329.43" x2="205" y2="329.43" stroke="#000" stroke-width="1.3" />
<text x="201.8" y="331.76" font-size="6.5" font-weight="bold" stroke="#000" stroke-width="0.3" text-anchor="end" fill="#000">100</text>
<line x1="202.8" y1="307.55" x2="205" y2="307.55" stroke="#000" stroke-width="1.3" />
<text x="201.8" y="309.89" font-size="6.5" font-weight="bold" stroke="#000" stroke-width="0.3" text-anchor="end" fill="#000">200</text>
<line x1="202.8" y1="285.68" x2="205" y2="285.68" stroke="#000" stroke-width="1.3" />
<text x="201.8" y="288.01" font-size="6.5" font-weight="bold" stroke="#000" stroke-width="0.3" text-anchor="end" fill="#000">300</text>
<line x1="202.8" y1="263.8" x2="205" y2="263.8" stroke="#000" stroke-width="1.3" />
<text x="201.8" y="266.14" font-size="6.5" font-weight="bold" stroke="#000" stroke-width="0.3" text-anchor="end" fill="#000">400</text>
<line x1="211.75" y1="342.11" x2="211.75" y2="341.46" stroke="#000" stroke-width="0.9" />
<line x1="209.75" y1="341.46" x2="213.75" y2="341.46" stroke="#000" stroke-width="0.9" />
<rect x="207.8" y="342.11" width="7.9" height="9.19" fill="#000" stroke="#000" stroke-width="0.8"/>
<path d="M208.85,337.41V339.71M207.85,337.98L209.85,339.13M207.85,339.13L209.85,337.98M211.75,337.41V339.71M210.75,337.98L212.75,339.13M210.75,339.13L212.75,337.98M214.65,337.41V339.71M213.65,337.98L215.65,339.13M213.65,339.13L215.65,337.98" stroke="#000" stroke-width="0.85" fill="none"/>
<line x1="221.45" y1="342.11" x2="221.45" y2="341.68" stroke="#000" stroke-width="0.9" />
<line x1="219.45" y1="341.68" x2="223.45" y2="341.68" stroke="#000" stroke-width="0.9" />
<rect x="217.5" y="342.11" width="7.9" height="9.19" fill="url(#hatch)" stroke="#000" stroke-width="0.8"/>
<path d="M218.55,337.63V339.93M217.55,338.2L219.55,339.35M217.55,339.35L219.55,338.2M221.45,337.63V339.93M220.45,338.2L222.45,339.35M220.45,339.35L222.45,338.2M224.35,337.63V339.93M223.35,338.2L225.35,339.35M223.35,339.35L225.35,338.2" stroke="#000" stroke-width="0.85" fill="none"/>
<line x1="231.15" y1="307.99" x2="231.15" y2="307.77" stroke="#000" stroke-width="0.9" />
<line x1="229.15" y1="307.77" x2="233.15" y2="307.77" stroke="#000" stroke-width="0.9" />
<rect x="227.2" y="307.99" width="7.9" height="43.31" fill="#9a9a9a" stroke="#000" stroke-width="0.8"/>
<path d="M228.25,303.72V306.02M227.25,304.29L229.25,305.44M227.25,305.44L229.25,304.29M231.15,303.72V306.02M230.15,304.29L232.15,305.44M230.15,305.44L232.15,304.29M234.05,303.72V306.02M233.05,304.29L235.05,305.44M233.05,305.44L235.05,304.29" stroke="#000" stroke-width="0.85" fill="none"/>
<line x1="244.52" y1="341.89" x2="244.52" y2="340.58" stroke="#000" stroke-width="0.9" />
<line x1="242.52" y1="340.58" x2="246.52" y2="340.58" stroke="#000" stroke-width="0.9" />
<rect x="240.57" y="341.89" width="7.9" height="9.41" fill="#000" stroke="#000" stroke-width="0.8"/>
<path d="M241.62,336.53V338.83M240.62,337.11L242.62,338.26M240.62,338.26L242.62,337.11M244.52,336.53V338.83M243.52,337.11L245.52,338.26M243.52,338.26L245.52,337.11M247.42,336.53V338.83M246.42,337.11L248.42,338.26M246.42,338.26L248.42,337.11" stroke="#000" stroke-width="0.85" fill="none"/>
<line x1="254.22" y1="341.68" x2="254.22" y2="340.58" stroke="#000" stroke-width="0.9" />
<line x1="252.22" y1="340.58" x2="256.22" y2="340.58" stroke="#000" stroke-width="0.9" />
<rect x="250.27" y="341.68" width="7.9" height="9.62" fill="url(#hatch)" stroke="#000" stroke-width="0.8"/>
<path d="M251.32,336.53V338.83M250.32,337.11L252.32,338.26M250.32,338.26L252.32,337.11M254.22,336.53V338.83M253.22,337.11L255.22,338.26M253.22,338.26L255.22,337.11M257.12,336.53V338.83M256.12,337.11L258.12,338.26M256.12,338.26L258.12,337.11" stroke="#000" stroke-width="0.85" fill="none"/>
<line x1="263.92" y1="321.77" x2="263.92" y2="318.49" stroke="#000" stroke-width="0.9" />
<line x1="261.92" y1="318.49" x2="265.92" y2="318.49" stroke="#000" stroke-width="0.9" />
<rect x="259.97" y="321.77" width="7.9" height="29.53" fill="#9a9a9a" stroke="#000" stroke-width="0.8"/>
<path d="M263.92,314.44V316.74M262.92,315.01L264.92,316.16M262.92,316.16L264.92,315.01" stroke="#000" stroke-width="0.85" fill="none"/>
<line x1="277.29" y1="346.27" x2="277.29" y2="346.05" stroke="#000" stroke-width="0.9" />
<line x1="275.29" y1="346.05" x2="279.29" y2="346.05" stroke="#000" stroke-width="0.9" />
<rect x="273.34" y="346.27" width="7.9" height="5.03" fill="#000" stroke="#000" stroke-width="0.8"/>
<path d="M274.39,342V344.3M273.39,342.58L275.39,343.73M273.39,343.73L275.39,342.58M277.29,342V344.3M276.29,342.58L278.29,343.73M276.29,343.73L278.29,342.58M280.19,342V344.3M279.19,342.58L281.19,343.73M279.19,343.73L281.19,342.58" stroke="#000" stroke-width="0.85" fill="none"/>
<line x1="286.99" y1="346.05" x2="286.99" y2="345.83" stroke="#000" stroke-width="0.9" />
<line x1="284.99" y1="345.83" x2="288.99" y2="345.83" stroke="#000" stroke-width="0.9" />
<rect x="283.04" y="346.05" width="7.9" height="5.25" fill="url(#hatch)" stroke="#000" stroke-width="0.8"/>
<path d="M284.09,341.78V344.08M283.09,342.36L285.09,343.51M283.09,343.51L285.09,342.36M286.99,341.78V344.08M285.99,342.36L287.99,343.51M285.99,343.51L287.99,342.36M289.89,341.78V344.08M288.89,342.36L290.89,343.51M288.89,343.51L290.89,342.36" stroke="#000" stroke-width="0.85" fill="none"/>
<line x1="296.69" y1="291.58" x2="296.69" y2="283.49" stroke="#000" stroke-width="0.9" />
<line x1="294.69" y1="283.49" x2="298.69" y2="283.49" stroke="#000" stroke-width="0.9" />
<rect x="292.74" y="291.58" width="7.9" height="59.72" fill="#9a9a9a" stroke="#000" stroke-width="0.8"/>
<path d="M295.24,279.44V281.74M294.24,280.01L296.24,281.16M294.24,281.16L296.24,280.01M298.14,279.44V281.74M297.14,280.01L299.14,281.16M297.14,281.16L299.14,280.01" stroke="#000" stroke-width="0.85" fill="none"/>
<line x1="310.06" y1="341.02" x2="310.06" y2="339.49" stroke="#000" stroke-width="0.9" />
<line x1="308.06" y1="339.49" x2="312.06" y2="339.49" stroke="#000" stroke-width="0.9" />
<rect x="306.11" y="341.02" width="7.9" height="10.28" fill="#000" stroke="#000" stroke-width="0.8"/>
<path d="M308.61,335.44V337.74M307.61,336.01L309.61,337.16M307.61,337.16L309.61,336.01M311.51,335.44V337.74M310.51,336.01L312.51,337.16M310.51,337.16L312.51,336.01" stroke="#000" stroke-width="0.85" fill="none"/>
<line x1="319.76" y1="341.68" x2="319.76" y2="339.49" stroke="#000" stroke-width="0.9" />
<line x1="317.76" y1="339.49" x2="321.76" y2="339.49" stroke="#000" stroke-width="0.9" />
<rect x="315.81" y="341.68" width="7.9" height="9.62" fill="url(#hatch)" stroke="#000" stroke-width="0.8"/>
<path d="M318.31,335.44V337.74M317.31,336.01L319.31,337.16M317.31,337.16L319.31,336.01M321.21,335.44V337.74M320.21,336.01L322.21,337.16M320.21,337.16L322.21,336.01" stroke="#000" stroke-width="0.85" fill="none"/>
<line x1="329.46" y1="280.21" x2="329.46" y2="266.64" stroke="#000" stroke-width="0.9" />
<line x1="327.46" y1="266.64" x2="331.46" y2="266.64" stroke="#000" stroke-width="0.9" />
<rect x="325.51" y="280.21" width="7.9" height="71.09" fill="#9a9a9a" stroke="#000" stroke-width="0.8"/>
<path d="M328.01,262.59V264.89M327.01,263.17L329.01,264.32M327.01,264.32L329.01,263.17M330.91,262.59V264.89M329.91,263.17L331.91,264.32M329.91,264.32L331.91,263.17" stroke="#000" stroke-width="0.85" fill="none"/>
<line x1="205" y1="329.43" x2="339" y2="329.43" stroke="#000" stroke-width="1.1" stroke-dasharray="1.7 1.2"/>
<line x1="204.4" y1="351.3" x2="337" y2="351.3" stroke="#000" stroke-width="1.3" />
<line x1="221.45" y1="351.3" x2="221.45" y2="353.5" stroke="#000" stroke-width="1.3" />
<line x1="254.22" y1="351.3" x2="254.22" y2="353.5" stroke="#000" stroke-width="1.3" />
<line x1="286.99" y1="351.3" x2="286.99" y2="353.5" stroke="#000" stroke-width="1.3" />
<line x1="319.76" y1="351.3" x2="319.76" y2="353.5" stroke="#000" stroke-width="1.3" />
<text transform="translate(223.05,360.3) rotate(-45)" font-size="6.4" font-weight="bold" stroke="#000" stroke-width="0.3" text-anchor="end" fill="#000">LPS</text>
<text transform="translate(255.82,360.3) rotate(-45)" font-size="6.4" font-weight="bold" stroke="#000" stroke-width="0.3" text-anchor="end" fill="#000">HKLM</text>
<text transform="translate(288.59,360.3) rotate(-45)" font-size="6.4" font-weight="bold" stroke="#000" stroke-width="0.3" text-anchor="end" fill="#000">Pam3CSK4</text>
<text transform="translate(321.36,360.3) rotate(-45)" font-size="6.4" font-weight="bold" stroke="#000" stroke-width="0.3" text-anchor="end" fill="#000">Poly(I:C)</text>
<line x1="212" y1="382.5" x2="339" y2="382.5" stroke="#000" stroke-width="1.4" />
<text x="275.3" y="391.2" font-size="7.0" font-weight="bold" stroke="#000" stroke-width="0.3" text-anchor="middle" fill="#000">+ATP</text>
<rect x="208.2" y="264.6" width="13.1" height="3.4" fill="#000" stroke="#000" stroke-width="1.3"/>
<rect x="208.2" y="271.35" width="13.1" height="3.4" fill="url(#hatch)" stroke="#000" stroke-width="1.3"/>
<rect x="208.2" y="278.1" width="13.1" height="3.4" fill="#9a9a9a" stroke="#000" stroke-width="1.3"/>
<text x="223.5" y="268.6" font-size="6.5" font-weight="normal" textLength="15.4" lengthAdjust="spacingAndGlyphs" stroke="#000" stroke-width="0.18" text-anchor="start" fill="#000">TNF&#945;</text>
<text x="223.5" y="275.2" font-size="6.5" font-weight="normal" textLength="31.2" lengthAdjust="spacingAndGlyphs" stroke="#000" stroke-width="0.18" text-anchor="start" fill="#000">IL-12/23p40</text>
<text x="223.5" y="281.8" font-size="6.5" font-weight="normal" textLength="13.2" lengthAdjust="spacingAndGlyphs" stroke="#000" stroke-width="0.18" text-anchor="start" fill="#000">IL-10</text>
<text transform="translate(178.1,307.55) rotate(-90)" font-size="7.2" font-weight="bold" textLength="72.3" lengthAdjust="spacingAndGlyphs" stroke="#000" stroke-width="0.3" text-anchor="middle" fill="#000">% cytokine produced</text>
<text transform="translate(186.6,308.2) rotate(-90)" font-size="7.2" font-weight="bold" textLength="48.6" lengthAdjust="spacingAndGlyphs" stroke="#000" stroke-width="0.3" text-anchor="middle" fill="#000">(of TLR alone)</text>
<text x="347.3" y="263.3" font-size="10.5" font-weight="bold" stroke="#000" stroke-width="0.3" text-anchor="start" fill="#000">I</text>
<line x1="385.6" y1="263.5" x2="385.6" y2="352.3" stroke="#000" stroke-width="1.3" />
<line x1="383.4" y1="351.7" x2="385.6" y2="351.7" stroke="#000" stroke-width="1.3" />
<text x="382.4" y="354.04" font-size="6.5" font-weight="bold" stroke="#000" stroke-width="0.3" text-anchor="end" fill="#000">0.00</text>
<line x1="383.4" y1="329.8" x2="385.6" y2="329.8" stroke="#000" stroke-width="1.3" />
<text x="382.4" y="332.14" font-size="6.5" font-weight="bold" stroke="#000" stroke-width="0.3" text-anchor="end" fill="#000">0.25</text>
<line x1="383.4" y1="307.9" x2="385.6" y2="307.9" stroke="#000" stroke-width="1.3" />
<text x="382.4" y="310.24" font-size="6.5" font-weight="bold" stroke="#000" stroke-width="0.3" text-anchor="end" fill="#000">0.50</text>
<line x1="383.4" y1="286" x2="385.6" y2="286" stroke="#000" stroke-width="1.3" />
<text x="382.4" y="288.34" font-size="6.5" font-weight="bold" stroke="#000" stroke-width="0.3" text-anchor="end" fill="#000">0.75</text>
<line x1="383.4" y1="264.1" x2="385.6" y2="264.1" stroke="#000" stroke-width="1.3" />
<text x="382.4" y="266.44" font-size="6.5" font-weight="bold" stroke="#000" stroke-width="0.3" text-anchor="end" fill="#000">1.00</text>
<line x1="394.5" y1="310.35" x2="394.5" y2="304.13" stroke="#000" stroke-width="0.9" />
<line x1="392.3" y1="304.13" x2="396.7" y2="304.13" stroke="#000" stroke-width="0.9" />
<rect x="389.25" y="310.35" width="10.5" height="41.35" fill="#000" stroke="#000" stroke-width="0.8"/>
<line x1="407.65" y1="342.33" x2="407.65" y2="341.36" stroke="#000" stroke-width="0.9" />
<line x1="405.45" y1="341.36" x2="409.85" y2="341.36" stroke="#000" stroke-width="0.9" />
<rect x="402.4" y="342.33" width="10.5" height="9.37" fill="#000" stroke="#000" stroke-width="0.8"/>
<line x1="420.8" y1="321.92" x2="420.8" y2="319.64" stroke="#000" stroke-width="0.9" />
<line x1="418.6" y1="319.64" x2="423" y2="319.64" stroke="#000" stroke-width="0.9" />
<rect x="415.55" y="321.92" width="10.5" height="29.78" fill="#000" stroke="#000" stroke-width="0.8"/>
<line x1="438.4" y1="345.92" x2="438.4" y2="345.57" stroke="#000" stroke-width="0.9" />
<line x1="436.2" y1="345.57" x2="440.6" y2="345.57" stroke="#000" stroke-width="0.9" />
<rect x="433.15" y="345.92" width="10.5" height="5.78" fill="url(#hatch)" stroke="#000" stroke-width="0.8"/>
<line x1="464.7" y1="331.99" x2="464.7" y2="324.37" stroke="#000" stroke-width="0.9" />
<line x1="462.5" y1="324.37" x2="466.9" y2="324.37" stroke="#000" stroke-width="0.9" />
<rect x="459.45" y="331.99" width="10.5" height="19.71" fill="url(#hatch)" stroke="#000" stroke-width="0.8"/>
<line x1="482.3" y1="301.68" x2="482.3" y2="300.89" stroke="#000" stroke-width="0.9" />
<line x1="480.1" y1="300.89" x2="484.5" y2="300.89" stroke="#000" stroke-width="0.9" />
<rect x="477.05" y="301.68" width="10.5" height="50.02" fill="#9a9a9a" stroke="#000" stroke-width="0.8"/>
<line x1="495.45" y1="273.74" x2="495.45" y2="270.41" stroke="#000" stroke-width="0.9" />
<line x1="493.25" y1="270.41" x2="497.65" y2="270.41" stroke="#000" stroke-width="0.9" />
<rect x="490.2" y="273.74" width="10.5" height="77.96" fill="#9a9a9a" stroke="#000" stroke-width="0.8"/>
<line x1="508.6" y1="310.44" x2="508.6" y2="306.41" stroke="#000" stroke-width="0.9" />
<line x1="506.4" y1="306.41" x2="510.8" y2="306.41" stroke="#000" stroke-width="0.9" />
<rect x="503.35" y="310.44" width="10.5" height="41.26" fill="#9a9a9a" stroke="#000" stroke-width="0.8"/>
<line x1="385" y1="351.7" x2="516" y2="351.7" stroke="#000" stroke-width="1.3" />
<line x1="394.5" y1="351.7" x2="394.5" y2="353.9" stroke="#000" stroke-width="1.3" />
<line x1="407.65" y1="351.7" x2="407.65" y2="353.9" stroke="#000" stroke-width="1.3" />
<line x1="420.8" y1="351.7" x2="420.8" y2="353.9" stroke="#000" stroke-width="1.3" />
<line x1="438.4" y1="351.7" x2="438.4" y2="353.9" stroke="#000" stroke-width="1.3" />
<line x1="451.55" y1="351.7" x2="451.55" y2="353.9" stroke="#000" stroke-width="1.3" />
<line x1="464.7" y1="351.7" x2="464.7" y2="353.9" stroke="#000" stroke-width="1.3" />
<line x1="482.3" y1="351.7" x2="482.3" y2="353.9" stroke="#000" stroke-width="1.3" />
<line x1="495.45" y1="351.7" x2="495.45" y2="353.9" stroke="#000" stroke-width="1.3" />
<line x1="508.6" y1="351.7" x2="508.6" y2="353.9" stroke="#000" stroke-width="1.3" />
<text transform="translate(396.6,361.7) rotate(-45)" font-size="6.8" font-weight="bold" stroke="#000" stroke-width="0.3" text-anchor="end" fill="#000">LPS</text>
<text transform="translate(409.75,361.7) rotate(-45)" font-size="6.8" font-weight="bold" stroke="#000" stroke-width="0.3" text-anchor="end" fill="#000">LPS+ATP</text>
<text transform="translate(422.9,361.7) rotate(-45)" font-size="6.8" font-weight="bold" stroke="#000" stroke-width="0.3" text-anchor="end" fill="#000">LPS+ATP+POM-1</text>
<text transform="translate(440.5,361.7) rotate(-45)" font-size="6.8" font-weight="bold" stroke="#000" stroke-width="0.3" text-anchor="end" fill="#000">LPS</text>
<text transform="translate(453.65,361.7) rotate(-45)" font-size="6.8" font-weight="bold" stroke="#000" stroke-width="0.3" text-anchor="end" fill="#000">LPS+ATP</text>
<text transform="translate(466.8,361.7) rotate(-45)" font-size="6.8" font-weight="bold" stroke="#000" stroke-width="0.3" text-anchor="end" fill="#000">LPS+ATP+POM-1</text>
<text transform="translate(484.4,361.7) rotate(-45)" font-size="6.8" font-weight="bold" stroke="#000" stroke-width="0.3" text-anchor="end" fill="#000">LPS</text>
<text transform="translate(497.55,361.7) rotate(-45)" font-size="6.8" font-weight="bold" stroke="#000" stroke-width="0.3" text-anchor="end" fill="#000">LPS+ATP</text>
<text transform="translate(510.7,361.7) rotate(-45)" font-size="6.8" font-weight="bold" stroke="#000" stroke-width="0.3" text-anchor="end" fill="#000">LPS+ATP+POM-1</text>
<line x1="394" y1="301.2" x2="406.1" y2="301.2" stroke="#000" stroke-width="1.0" />
<path d="M398.45,296.65V298.95M397.45,297.23L399.45,298.38M397.45,298.38L399.45,297.23M401.65,296.65V298.95M400.65,297.23L402.65,298.38M400.65,298.38L402.65,297.23" stroke="#000" stroke-width="0.85" fill="none"/>
<line x1="409.7" y1="301.2" x2="422.2" y2="301.2" stroke="#000" stroke-width="1.0" />
<path d="M414.35,296.65V298.95M413.35,297.23L415.35,298.38M413.35,298.38L415.35,297.23M417.55,296.65V298.95M416.55,297.23L418.55,298.38M416.55,298.38L418.55,297.23" stroke="#000" stroke-width="0.85" fill="none"/>
<line x1="435.2" y1="321.9" x2="449.4" y2="321.9" stroke="#000" stroke-width="1.0" />
<path d="M440.7,317.35V319.65M439.7,317.93L441.7,319.07M439.7,319.07L441.7,317.93M443.9,317.35V319.65M442.9,317.93L444.9,319.07M442.9,319.07L444.9,317.93" stroke="#000" stroke-width="0.85" fill="none"/>
<line x1="453.4" y1="321.9" x2="465.8" y2="321.9" stroke="#000" stroke-width="1.0" />
<path d="M459.6,317.35V319.65M458.6,317.93L460.6,319.07M458.6,319.07L460.6,317.93" stroke="#000" stroke-width="0.85" fill="none"/>
<line x1="481.7" y1="266.5" x2="493.2" y2="266.5" stroke="#000" stroke-width="1.0" />
<path d="M484.25,261.95V264.25M483.25,262.53L485.25,263.68M483.25,263.68L485.25,262.53M487.45,261.95V264.25M486.45,262.53L488.45,263.68M486.45,263.68L488.45,262.53M490.65,261.95V264.25M489.65,262.53L491.65,263.68M489.65,263.68L491.65,262.53" stroke="#000" stroke-width="0.85" fill="none"/>
<line x1="497.7" y1="266.5" x2="510.1" y2="266.5" stroke="#000" stroke-width="1.0" />
<path d="M502.3,261.95V264.25M501.3,262.53L503.3,263.68M501.3,263.68L503.3,262.53M505.5,261.95V264.25M504.5,262.53L506.5,263.68M504.5,263.68L506.5,262.53" stroke="#000" stroke-width="0.85" fill="none"/>
<rect x="388.2" y="264.8" width="13.1" height="3.3" fill="#000" stroke="#000" stroke-width="1.3"/>
<rect x="388.2" y="271.05" width="13.1" height="3.3" fill="url(#hatch)" stroke="#000" stroke-width="1.3"/>
<rect x="388.2" y="277.3" width="13.1" height="3.3" fill="#9a9a9a" stroke="#000" stroke-width="1.3"/>
<text x="403.5" y="268.7" font-size="6.6" font-weight="normal" textLength="15.6" lengthAdjust="spacingAndGlyphs" stroke="#000" stroke-width="0.18" text-anchor="start" fill="#000">TNF&#945;</text>
<text x="403.5" y="275.1" font-size="6.6" font-weight="normal" textLength="33.6" lengthAdjust="spacingAndGlyphs" stroke="#000" stroke-width="0.18" text-anchor="start" fill="#000">IL-12/23p40</text>
<text x="403.5" y="281.5" font-size="6.6" font-weight="normal" textLength="13.2" lengthAdjust="spacingAndGlyphs" stroke="#000" stroke-width="0.18" text-anchor="start" fill="#000">IL-10</text>
<text transform="translate(365,308.2) rotate(-90)" font-size="7.2" font-weight="bold" textLength="92.2" lengthAdjust="spacingAndGlyphs" stroke="#000" stroke-width="0.3" text-anchor="middle" fill="#000">cytokine produced (ng/mL)</text>
</svg>
</body></html>
